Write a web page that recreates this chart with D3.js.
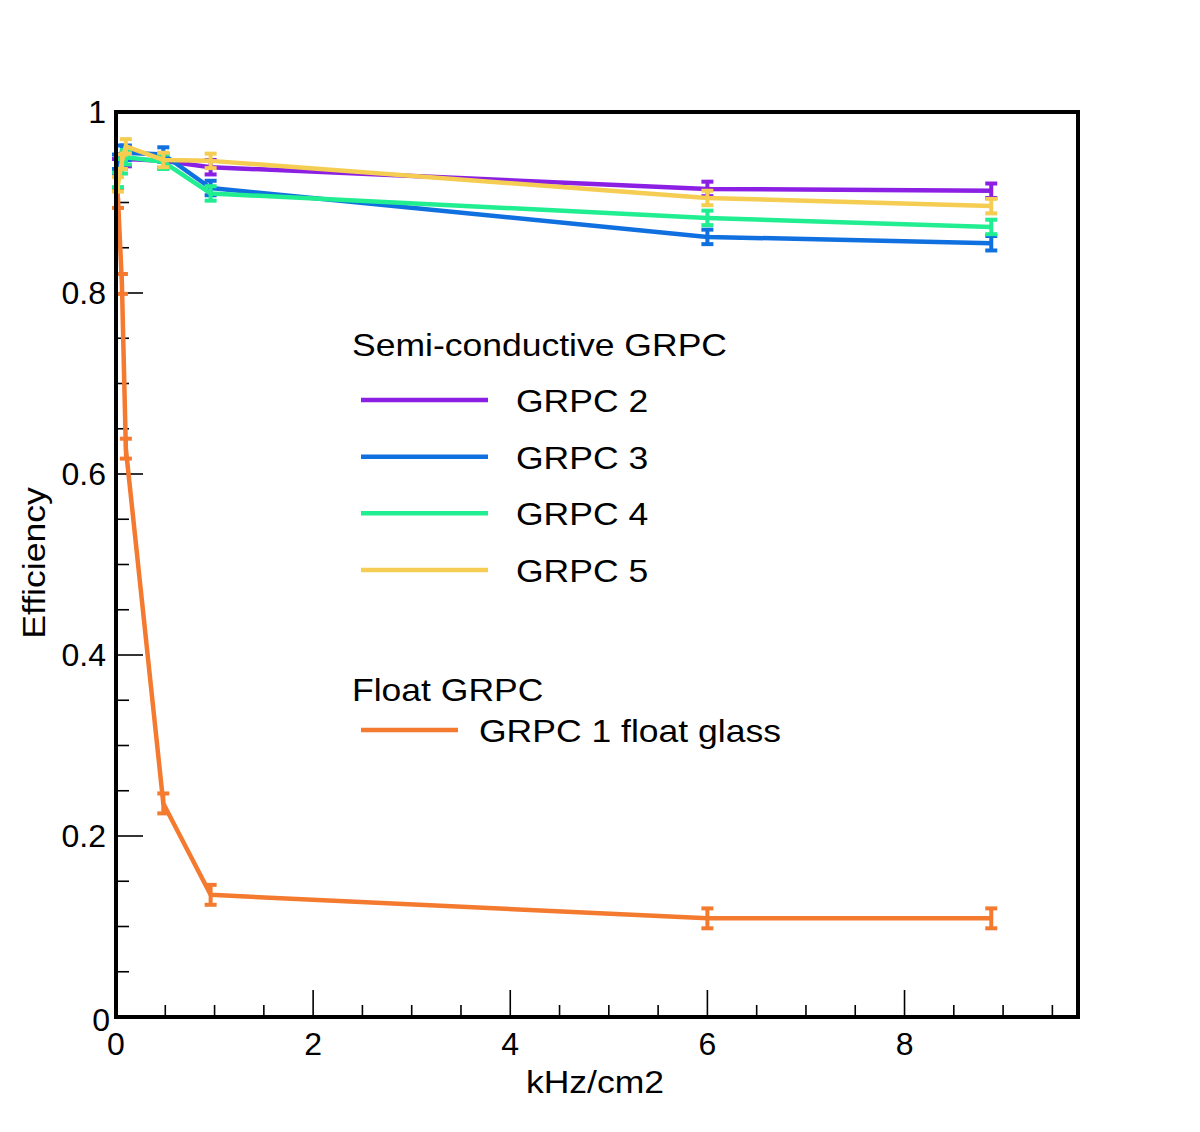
<!DOCTYPE html>
<html>
<head>
<meta charset="utf-8">
<script src="https://cdn.jsdelivr.net/npm/d3@7"></script>
<style>
  body { margin: 0; background: #fff; }
  svg { display: block; font-family: "Liberation Sans", Arial, sans-serif; }
</style>
</head>
<body>
<svg id="chart"></svg>
<script>
// rate points (kHz/cm2), shared by every series
const RATES = [0.02, 0.06, 0.1, 0.48, 0.96, 6.0, 8.88];

const GRPC2 = [0.94, 0.945, 0.948, 0.946, 0.939, 0.915, 0.913];
const GRPC3 = [0.945, 0.955, 0.955, 0.953, 0.916, 0.862, 0.855];
const GRPC4 = [0.925, 0.94, 0.95, 0.945, 0.91, 0.883, 0.873];
const GRPC5 = [0.92, 0.945, 0.962, 0.947, 0.946, 0.905, 0.896];
const GRPC1 = [0.905, 0.81, 0.628, 0.236, 0.135, 0.109, 0.109];

const SEMI_ERR = [0.008, 0.008, 0.008, 0.008, 0.008, 0.008, 0.008];
const FLOAT_ERR = [0.011, 0.011, 0.011, 0.011, 0.011, 0.011, 0.011];

const SEMI_NAMES = ["GRPC 2", "GRPC 3", "GRPC 4", "GRPC 5"];
const FLOAT_NAMES = ["GRPC 1 float glass"];
const X_TICKS = [0, 2, 4, 6, 8];
const Y_TICKS = [0, 0.2, 0.4, 0.6, 0.8, 1];

const W = 1200, H = 1132;
const M = {left: 116, right: 1078, top: 112, bottom: 1017};
const STRETCH = 1.11; // reference glyphs are a bit wider than Liberation Sans

const x = d3.scaleLinear().domain([0, 9.76]).range([M.left, M.right]);
const y = d3.scaleLinear().domain([0, 1]).range([M.bottom, M.top]);

const colors = {
  "GRPC 2": "#8b1fe4",
  "GRPC 3": "#1170e0",
  "GRPC 4": "#20ee90",
  "GRPC 5": "#f5cd52",
  "GRPC 1 float glass": "#f47a30"
};

const series = [
  {name: "GRPC 1 float glass", vals: GRPC1, err: FLOAT_ERR},
  {name: "GRPC 2", vals: GRPC2, err: SEMI_ERR},
  {name: "GRPC 3", vals: GRPC3, err: SEMI_ERR},
  {name: "GRPC 4", vals: GRPC4, err: SEMI_ERR},
  {name: "GRPC 5", vals: GRPC5, err: SEMI_ERR}
];

const svg = d3.select("#chart").attr("width", W).attr("height", H);

function wideText(parent, tx, ty, str, anchor, rot) {
  return parent.append("text")
    .attr("transform", `translate(${tx},${ty})` + (rot ? ` rotate(${rot})` : "") + ` scale(${STRETCH},1)`)
    .attr("text-anchor", anchor || "start")
    .text(str);
}

// ticks, drawn inward like ROOT
const xMinor = d3.range(0, 9.76, 0.5);
svg.append("g").selectAll("line").data(xMinor).enter().append("line")
  .attr("x1", d => x(d)).attr("x2", d => x(d))
  .attr("y1", M.bottom).attr("y2", d => M.bottom - (d % 2 === 0 ? 27 : 12))
  .attr("stroke", "#000").attr("stroke-width", 1.6);

const yMinor = d3.range(0, 1.0001, 0.05);
svg.append("g").selectAll("line").data(yMinor).enter().append("line")
  .attr("y1", d => y(d)).attr("y2", d => y(d))
  .attr("x1", M.left).attr("x2", d => M.left + (Math.abs(d * 5 - Math.round(d * 5)) < 1e-6 ? 27 : 13))
  .attr("stroke", "#000").attr("stroke-width", 1.6);

// tick labels
svg.append("g").attr("font-size", 32).selectAll("text").data(X_TICKS).enter().append("text")
  .attr("x", d => x(d)).attr("y", 1055)
  .attr("text-anchor", "middle")
  .text(d => d);

svg.append("g").attr("font-size", 32).selectAll("text").data(Y_TICKS).enter().append("text")
  .attr("x", d => d === 0 ? 110 : 106).attr("y", d => y(d) + 11 + (d === 0 ? 3 : 0))
  .attr("text-anchor", "end")
  .text(d => d3.format("")(d));

const titles = svg.append("g").attr("font-size", 32);
wideText(titles, 595, 1093, "kHz/cm2", "middle");
wideText(titles, 45, 563, "Efficiency", "middle", -90);

// data
const line = d3.line().x(d => x(d.x)).y(d => y(d.v));
const plot = svg.append("g");

series.forEach(s => {
  const pts = RATES.map((r, i) => ({x: r, v: s.vals[i], e: s.err[i]}));
  const c = colors[s.name];
  const g = plot.append("g");
  g.append("path").datum(pts)
    .attr("d", line).attr("fill", "none")
    .attr("stroke", c).attr("stroke-width", 4.5)
    .attr("stroke-linejoin", "round");
  g.selectAll(".eb").data(pts).enter().append("line")
    .attr("x1", d => x(d.x)).attr("x2", d => x(d.x))
    .attr("y1", d => y(d.v - d.e)).attr("y2", d => y(d.v + d.e))
    .attr("stroke", c).attr("stroke-width", 4);
  g.selectAll(".cap").data(pts.flatMap(d => [d.v - d.e, d.v + d.e].map(v => ({x: d.x, v}))))
    .enter().append("line")
    .attr("x1", d => x(d.x) - 6).attr("x2", d => x(d.x) + 6)
    .attr("y1", d => y(d.v)).attr("y2", d => y(d.v))
    .attr("stroke", c).attr("stroke-width", 4);
});

// frame
svg.append("rect")
  .attr("x", M.left).attr("y", M.top)
  .attr("width", M.right - M.left).attr("height", M.bottom - M.top)
  .attr("fill", "none").attr("stroke", "#000").attr("stroke-width", 4);

// legend
const leg = svg.append("g").attr("font-size", 32);
wideText(leg, 352, 356, "Semi-conductive GRPC");
const legY = d3.scalePoint().domain(SEMI_NAMES).range([400, 570]);
SEMI_NAMES.forEach(n => {
  leg.append("line").attr("x1", 361).attr("x2", 488)
    .attr("y1", legY(n)).attr("y2", legY(n))
    .attr("stroke", colors[n]).attr("stroke-width", 4.5);
  wideText(leg, 516, legY(n) + 12, n);
});
wideText(leg, 352, 701, "Float GRPC");
FLOAT_NAMES.forEach(n => {
  leg.append("line").attr("x1", 361).attr("x2", 458)
    .attr("y1", 730).attr("y2", 730)
    .attr("stroke", colors[n]).attr("stroke-width", 4.5);
  wideText(leg, 479, 742, n);
});
</script>
</body>
</html>
